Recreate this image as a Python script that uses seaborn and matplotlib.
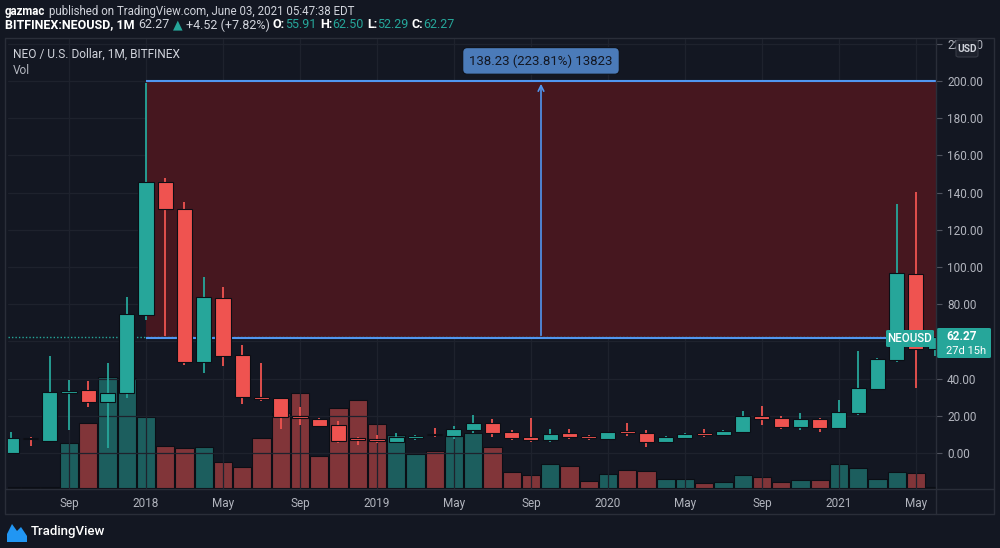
import numpy as np
import pandas as pd
import matplotlib
matplotlib.use("Agg")
import matplotlib.pyplot as plt
import seaborn as sns
from matplotlib.patches import Rectangle, FancyBboxPatch, Polygon
from matplotlib.lines import Line2D

# ---------------- data (monthly NEO/USD, Bitfinex) ----------------
months = pd.date_range("2017-06-01", "2021-06-01", freq="MS")
opens = [0.2, 8.0, 6.5, 32.5, 33.9, 27.4, 32.1, 74.2, 145.5, 131.4, 49.1, 83.5,
         52.7, 30.3, 29.4, 19.5, 18.3, 15.0, 7.3, 6.9, 6.0, 8.2, 9.9, 9.3,
         12.4, 16.0, 11.1, 8.8, 7.0, 10.6, 9.3, 7.7, 11.2, 10.6, 5.8, 8.2,
         10.1, 9.5, 11.2, 20.1, 18.8, 13.8, 18.3, 13.3, 21.5, 34.4, 50.0, 96.2,
         55.91]
highs = [11.5, 8.8, 52.0, 39.0, 38.7, 48.2, 84.0, 199.0, 147.7, 134.8, 94.5, 89.4,
         58.0, 48.6, 29.6, 25.0, 19.0, 17.4, 8.8, 9.7, 10.6, 9.9, 13.3, 14.5,
         20.4, 18.3, 12.4, 18.6, 12.9, 12.9, 9.6, 11.3, 16.3, 12.4, 9.0, 11.0,
         12.7, 12.2, 22.7, 25.4, 20.0, 21.3, 19.0, 28.5, 54.8, 51.3, 133.9, 140.5,
         62.50]
lows = [0.2, 3.9, 6.0, 12.4, 25.0, 2.9, 29.4, 71.5, 63.0, 47.3, 43.2, 46.8,
        26.2, 28.1, 12.9, 15.0, 13.8, 5.5, 4.3, 5.2, 5.5, 7.0, 8.4, 7.4,
        10.6, 8.8, 7.0, 6.0, 5.7, 7.5, 6.9, 7.5, 9.1, 3.1, 5.5, 7.7,
        8.4, 9.0, 10.6, 15.0, 12.9, 12.4, 11.5, 13.0, 20.4, 34.0, 48.8, 34.8,
        52.29]
closes = [8.2, 7.3, 32.8, 33.5, 27.2, 32.4, 74.7, 145.5, 131.0, 49.1, 83.7, 52.2,
          29.9, 28.9, 19.2, 18.8, 14.7, 6.6, 6.9, 6.5, 8.4, 9.4, 9.5, 12.9,
          16.3, 10.9, 7.9, 7.2, 10.2, 8.4, 7.9, 11.1, 10.7, 5.7, 8.4, 10.2,
          9.6, 11.8, 20.1, 18.2, 13.8, 18.3, 13.3, 21.9, 34.8, 50.4, 96.6, 55.91,
          62.27]
volume = [1.0, 1.0, 1.0, 44.7, 65.3, 111.3, 109.7, 70.7, 42.0, 40.3, 41.3, 26.3,
          21.3, 50.3, 74.7, 94.7, 32.3, 79.7, 88.0, 63.7, 53.0, 34.0, 37.0, 52.3,
          54.7, 40.7, 15.7, 13.0, 24.0, 22.3, 7.3, 14.0, 18.0, 17.3, 8.7, 8.7,
          5.3, 6.3, 12.7, 11.3, 6.3, 8.0, 8.0, 24.0, 20.3, 8.7, 16.3, 15.3,
          1.3]
tick_months = ["2017-09", "2018-01", "2018-05", "2018-09", "2019-01", "2019-05",
               "2019-09", "2020-01", "2020-05", "2020-09", "2021-01", "2021-05"]
tick_labels = ["Sep", "2018", "May", "Sep", "2019", "May", "Sep", "2020",
               "May", "Sep", "2021", "May"]
price_ticks = [0, 20, 40, 60, 80, 100, 120, 140, 160, 180, 200, 220]
hidden_price_ticks = [60]   # covered by the last-price label in the reference
measure_low, measure_high = 61.762, 199.99
measure_start = "2018-01"
last_price = 62.27
change_text = "+4.52 (+7.82%)"

# ---------------- style ----------------
BG = "#131722"
TXT = "#d1d4dc"
AXTXT = "#b2b5be"
GRID = "#1e222d"
FRAME = "#2a2e39"
UP = "#26a69a"
DOWN = "#ef5350"
VUP = "#1c5e5e"
VDOWN = "#813539"
BLUE = "#5096f0"
FAM = ["Roboto", "DejaVu Sans"]

sns.set_theme(style="dark", rc={"axes.facecolor": BG, "figure.facecolor": BG})
plt.rcParams["font.family"] = FAM

W, H = 1000, 548
fig = plt.figure(figsize=(W / 100, H / 100), dpi=100)
fig.patch.set_facecolor(BG)

def fx(px):
    return px / W

def fy(py):
    return 1 - py / H

n = len(months)
idx = np.arange(n)
o = np.array(opens); h = np.array(highs); l = np.array(lows); c = np.array(closes)
up = c >= o

rect = [fx(8), fy(489), fx(936) - fx(8), fy(39) - fy(489)]
ax_vol = fig.add_axes(rect)
ax = fig.add_axes(rect, sharex=ax_vol)
ax.patch.set_alpha(0)
ax_vol.set_facecolor(BG)

# volume via seaborn
df = pd.DataFrame({"idx": idx, "volume": volume,
                   "dir": np.where(up, "up", "down")})
sns.barplot(data=df, x="idx", y="volume", hue="dir",
            palette={"up": VUP, "down": VDOWN}, native_scale=True, width=0.94,
            dodge=False, errorbar=None, legend=False, ax=ax_vol,
            edgecolor="#0b0e15", linewidth=0.8, saturation=1)
ax_vol.set_ylim(-1, 449)
ax_vol.set_yticks([])
ax_vol.set_xlabel(""); ax_vol.set_ylabel("")
for s in ax_vol.spines.values():
    s.set_visible(False)
ax_vol.grid(False)

xmin, xmax = -0.169, 48.04
ax.set_xlim(xmin, xmax)
ax.set_ylim(-19.35, 222.58)

# grid
ax.grid(False)
tpos = [list(months.strftime("%Y-%m")).index(t) for t in tick_months]
for tp in tpos:
    ax.axvline(tp, color=GRID, lw=0.9, zorder=0)
for pt in price_ticks:
    ax.axhline(pt, color=GRID, lw=0.9, zorder=0)

# measurement rectangle
ms = list(months.strftime("%Y-%m")).index(measure_start)
ax.add_patch(Rectangle((ms, measure_low), xmax - ms, measure_high - measure_low,
                       facecolor="#46171f", edgecolor="none", zorder=1))
ax.axhline(last_price, color=UP, lw=1.0, ls=(0, (1, 1.5)), zorder=1.5)
ax.hlines([measure_low, measure_high], ms, xmax, color=BLUE, lw=1.5, zorder=2)
ax.annotate("", xy=((ms + xmax) / 2, measure_high), xytext=((ms + xmax) / 2, measure_low),
            arrowprops=dict(arrowstyle="->", color=BLUE, lw=1.2, mutation_scale=10),
            zorder=2)
diff = measure_high - measure_low
ax.text((ms + xmax) / 2, 210.8,
        f"{diff:.2f} ({diff / measure_low * 100:.2f}%) {diff * 100:.0f}",
        ha="center", va="center", fontsize=9.5, color="#131722", zorder=6,
        bbox=dict(boxstyle="round,pad=0.5,rounding_size=0.35", fc="#4b7bb9",
                  ec="#0e1118", lw=0.8))

# candles
colors = np.where(up, UP, DOWN)
ax.vlines(idx, l, h, colors=colors, lw=1.3, zorder=3)
bottoms = np.minimum(o, c)
heights = np.maximum(np.abs(c - o), 0.9)
ax.bar(idx, heights, bottom=bottoms, width=0.78, color=colors,
       edgecolor="#0b0e15", linewidth=0.8, zorder=4)

# axes ticks
ax.set_xticks(tpos, tick_labels)
ax.tick_params(axis="x", length=0, pad=6, labelsize=8.5, labelcolor=AXTXT)
ax.yaxis.tick_right()
ax.set_yticks(price_ticks, ["" if p in hidden_price_ticks else f"{p:.2f}"
                            for p in price_ticks])
ax.tick_params(axis="y", length=4, width=0.8, color="#50535e", pad=4,
               labelsize=8.5, labelcolor=AXTXT)
for s in ax.spines.values():
    s.set_visible(False)
ax_vol.tick_params(axis="x", length=0, labelbottom=False)

# frame lines
for (x0, y0, x1, y1) in [(5, 38, 994, 38), (5, 514, 994, 514), (5, 38, 5, 514),
                         (994, 38, 994, 514), (5, 489, 994, 489), (936, 38, 936, 514)]:
    fig.add_artist(Line2D([fx(x0), fx(x1)], [fy(y0), fy(y1)], color=FRAME, lw=1.0))

# header rich text
fig.canvas.draw()
renderer = fig.canvas.get_renderer()

def rich(x_px, y_px, parts, size):
    x = x_px
    for s, col, wt in parts:
        if s == " ":
            x += size * 0.38
            continue
        t = fig.text(fx(x), fy(y_px), s, color=col, fontsize=size, fontweight=wt,
                     ha="left", va="center", family=FAM)
        x += t.get_window_extent(renderer).width

rich(5, 11, [("gazmac", "white", "bold"), (" ", None, None),
             ("published on TradingView.com, June 03, 2021 05:47:38 EDT", TXT, "normal")], 8.3)
lo, lh, ll, lc = opens[-1], highs[-1], lows[-1], closes[-1]
rich(5, 25, [("BITFINEX:NEOUSD, 1M", "white", "bold"), (" ", None, None),
             (f"{lc:.2f}", TXT, "normal"), (" ", None, None), ("▲", UP, "normal"),
             (" ", None, None), (change_text, TXT, "normal"), (" ", None, None),
             ("O:", "white", "bold"), (f"{lo:.2f}", UP, "normal"), (" ", None, None),
             ("H:", "white", "bold"), (f"{lh:.2f}", UP, "normal"), (" ", None, None),
             ("L:", "white", "bold"), (f"{ll:.2f}", UP, "normal"), (" ", None, None),
             ("C:", "white", "bold"), (f"{lc:.2f}", UP, "normal")], 9)

fig.text(fx(13), fy(54), "NEO / U.S. Dollar, 1M, BITFINEX", color=TXT, fontsize=8.6,
         ha="left", va="center")
fig.text(fx(13), fy(70), "Vol", color=AXTXT, fontsize=8.6, ha="left", va="center")

# symbol label and price label
fig.add_artist(FancyBboxPatch((fx(886), fy(347)), fx(48), 17 / H,
                              boxstyle="round,pad=0,rounding_size=0.002",
                              fc=UP, ec="none", transform=fig.transFigure))
fig.text(fx(910), fy(338.5), "NEOUSD", color="white", fontsize=8.3, ha="center",
         va="center", fontweight="medium")
fig.add_artist(FancyBboxPatch((fx(937), fy(358)), fx(54), 30 / H,
                              boxstyle="round,pad=0,rounding_size=0.002",
                              fc=UP, ec="none", transform=fig.transFigure))
fig.text(fx(946), fy(336), f"{last_price:.2f}", color="white", fontsize=8.5,
         ha="left", va="center", fontweight="bold")
fig.text(fx(946), fy(351.5), "27d 15h", color="white", fontsize=8,
         ha="left", va="center")

# USD box
fig.add_artist(FancyBboxPatch((fx(956), fy(57)), fx(22), 17 / H,
                              boxstyle="round,pad=0,rounding_size=0.003",
                              fc="#1e222d", ec="#363a45", lw=0.8, transform=fig.transFigure))
fig.text(fx(967), fy(48.5), "USD", color=TXT, fontsize=7.3, ha="center", va="center",
         fontweight="bold")

# TradingView logo
logo = [(7, 542), (7, 534), (12, 524), (17, 531), (21, 527), (27, 536), (27, 542)]
fig.add_artist(Polygon([(fx(a), fy(b)) for a, b in logo], closed=True, fc="#2196f3",
                       ec="none", transform=fig.transFigure))
fig.text(fx(31), fy(532), "TradingView", color="white", fontsize=9.5, ha="left",
         va="center", fontweight="medium")

fig.savefig("out.png", dpi=100, facecolor=BG)
